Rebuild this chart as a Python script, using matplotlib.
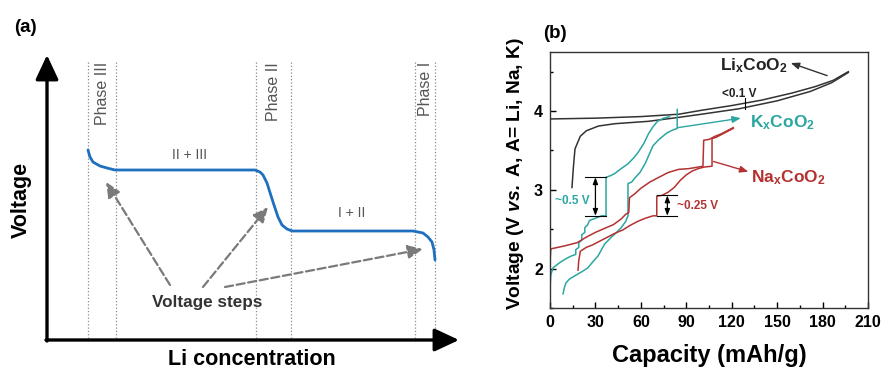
import matplotlib
matplotlib.use("Agg")
import matplotlib.pyplot as plt
from matplotlib.ticker import MultipleLocator

plt.rcParams['font.family'] = ['Liberation Sans', 'DejaVu Sans']
plt.rcParams['mathtext.fontset'] = 'custom'
plt.rcParams['mathtext.rm'] = 'Liberation Sans'
plt.rcParams['mathtext.bf'] = 'Liberation Sans:bold'
plt.rcParams['mathtext.it'] = 'Liberation Sans:italic'
plt.rcParams['mathtext.bfit'] = 'Liberation Sans:italic:bold'

# ---------------- panel (a): schematic (pixel-like units) ----------------
phase_lines_x = [88, 116, 256, 291, 415, 435]
phase_names = ["Phase III", "Phase II", "Phase I"]
phase_label_x = [102, 273, 425]

curve_x = [88, 90, 93, 100, 107, 115, 160, 210, 255, 260, 263, 267, 273, 278,
           282, 287, 292, 340, 380, 413, 423, 428, 432, 434, 435]
curve_y = [150, 157, 162, 166, 168, 170, 170, 170, 170, 172, 175, 183, 202, 217,
           225, 229, 231, 231, 231, 231, 233, 237, 242, 250, 260]

region_labels = ["II + III", "I + II"]
region_xy = [(190, 155), (352, 213)]

step_tails = [(170, 285), (203, 287), (225, 287)]
step_heads = [(106, 182), (268, 207), (423, 249)]

# ---------------- panel (b): data ----------------
li_chg_cap = [0, 30, 60, 85, 100, 120, 140, 160, 175, 187, 197]
li_chg_v = [3.90, 3.91, 3.93, 3.96, 4.01, 4.07, 4.14, 4.23, 4.31, 4.39, 4.50]
li_dis_cap = [197, 186, 172, 150, 125, 100, 85, 65, 43, 32, 24, 20, 16.5, 15.5, 14.5]
li_dis_v = [4.49, 4.36, 4.25, 4.13, 4.03, 3.96, 3.92, 3.87, 3.84, 3.81, 3.75, 3.68, 3.52, 3.30, 3.03]

k1_cap = [0, 0.5, 2, 6, 10, 14, 17, 17, 19, 19, 21, 21, 23, 23, 25, 26, 30, 34, 37,
          37, 40, 43, 47, 51.5, 55, 58, 62, 65, 68, 71, 75, 79]
k1_v = [1.75, 1.92, 2.01, 2.07, 2.12, 2.16, 2.18, 2.24, 2.27, 2.33, 2.36, 2.43, 2.46,
        2.52, 2.56, 2.61, 2.64, 2.67, 2.67, 3.16, 3.18, 3.21, 3.27, 3.33, 3.40, 3.47,
        3.59, 3.71, 3.80, 3.87, 3.91, 3.93]
k2_cap = [8.6, 9.5, 10.6, 13, 16.5, 21, 25, 28, 31.7, 34, 36, 38, 40, 44, 47, 50,
          51.5, 51.5, 54, 56, 59.4, 63, 68, 72, 77, 80, 82.5, 84, 84]
k2_v = [1.68, 1.76, 1.82, 1.87, 1.91, 1.96, 2.01, 2.08, 2.16, 2.24, 2.31, 2.35, 2.39,
        2.46, 2.52, 2.60, 2.67, 3.08, 3.10, 3.15, 3.22, 3.34, 3.56, 3.64, 3.72, 3.75,
        3.77, 3.78, 4.02]

na1_cap = [0, 0.5, 10, 18, 24, 30, 36, 42, 47, 50, 52, 52.5, 56, 60, 66, 72, 78, 85,
           92, 98, 101, 101.5, 105, 109, 113, 117, 121]
na1_v = [2.08, 2.25, 2.29, 2.33, 2.40, 2.46, 2.51, 2.56, 2.63, 2.69, 2.71, 2.90, 2.95,
         3.02, 3.10, 3.16, 3.22, 3.26, 3.27, 3.29, 3.30, 3.63, 3.64, 3.68, 3.71, 3.75, 3.79]
na2_cap = [18.5, 19, 20, 24, 28, 33, 38, 43, 48, 53, 58, 63, 68, 70.5, 70.5, 74, 78,
           82, 86, 90, 94, 98, 102, 107, 107, 110, 114, 118, 121]
na2_v = [1.98, 2.10, 2.22, 2.27, 2.30, 2.35, 2.40, 2.45, 2.49, 2.55, 2.60, 2.64, 2.67,
         2.67, 2.92, 2.93, 2.97, 3.03, 3.12, 3.19, 3.24, 3.27, 3.29, 3.30, 3.65, 3.67,
         3.71, 3.75, 3.78]

black = '#333333'
teal = '#2ba6a0'
red = '#b43232'
blue = '#1f6fbf'
gray = '#7a7a7a'

fig = plt.figure(figsize=(8.81, 3.72), dpi=100)

# ---------------- panel (a) ----------------
axa = fig.add_axes([0, 0, 470 / 881, 1])
axa.set_xlim(0, 470)
axa.set_ylim(372, 0)
axa.axis('off')

for x in phase_lines_x:
    axa.plot([x, x], [62, 338], ls=':', lw=0.9, color='#8a8a8a')
for name, x in zip(phase_names, phase_label_x):
    axa.text(x, 62, name, rotation=90, ha='center', va='top', fontsize=11.5, color='#555555')

axa.plot(curve_x, curve_y, color=blue, lw=2.0, solid_capstyle='round')

for txt, (x, y) in zip(region_labels, region_xy):
    axa.text(x, y, txt, ha='center', va='center', fontsize=10, color='#555555')

for (tx, ty), (hx, hy) in zip(step_tails, step_heads):
    axa.annotate('', xy=(hx, hy), xytext=(tx, ty),
                 arrowprops=dict(arrowstyle='-|>,head_length=0.9,head_width=0.4',
                                 color=gray, lw=1.6, ls='--', shrinkA=0, shrinkB=0))
axa.text(207, 302, 'Voltage steps', ha='center', va='center', fontsize=12.3,
         fontweight='bold', color='#333333')

# axes arrows
axa.annotate('', xy=(47, 55), xytext=(47, 341),
             arrowprops=dict(arrowstyle='-|>,head_length=1.5,head_width=0.7',
                             color='black', lw=2.4, shrinkA=0, shrinkB=0))
axa.annotate('', xy=(459, 340), xytext=(46, 340),
             arrowprops=dict(arrowstyle='-|>,head_length=1.5,head_width=0.7',
                             color='black', lw=2.4, shrinkA=0, shrinkB=0))
axa.text(21, 200, 'Voltage', rotation=90, ha='center', va='center', fontsize=15.5,
         fontweight='bold')
axa.text(252, 365, 'Li concentration', ha='center', va='baseline', fontsize=15.5,
         fontweight='bold')
axa.text(14, 27, '(a)', ha='left', va='center', fontsize=13.5, fontweight='bold')

# ---------------- panel (b) ----------------
ax = fig.add_axes([550 / 881, 64 / 372, 318 / 881, 256 / 372])
ax.plot(li_chg_cap, li_chg_v, color=black, lw=1.1)
ax.plot(li_dis_cap, li_dis_v, color=black, lw=1.1)
ax.plot(k1_cap, k1_v, color=teal, lw=1.1)
ax.plot(k2_cap, k2_v, color=teal, lw=1.1)
ax.plot(na1_cap, na1_v, color=red, lw=1.1)
ax.plot(na2_cap, na2_v, color=red, lw=1.1)

ax.set_xlim(0, 210)
ax.set_ylim(1.5, 4.75)
ax.xaxis.set_major_locator(MultipleLocator(30))
ax.xaxis.set_minor_locator(MultipleLocator(15))
ax.yaxis.set_major_locator(MultipleLocator(1))
ax.yaxis.set_minor_locator(MultipleLocator(0.5))
ax.tick_params(which='both', direction='in', top=False, right=False,
               labelsize=11.5, pad=5)
ax.tick_params(which='major', length=4, width=1)
ax.tick_params(which='minor', length=2.5, width=1)
for lab in ax.get_xticklabels() + ax.get_yticklabels():
    lab.set_fontweight('bold')
for s in ax.spines.values():
    s.set_linewidth(1.0)
    s.set_color('#333333')

ax.set_xlabel('Capacity (mAh/g)', fontsize=17, fontweight='bold', labelpad=10)
ax.set_ylabel(r'Voltage (V $\mathbfit{vs.}$ A, A= Li, Na, K)', fontsize=13.8,
              fontweight='bold')
ax.yaxis.set_label_coords(-0.075, 0.525)

# labels and arrows
ax.text(112, 4.58, r'Li$_{\mathbf{x}}$CoO$_{\mathbf{2}}$', fontsize=12.5,
        fontweight='bold', color='#222222', va='center')
ax.annotate('', xy=(159, 4.61), xytext=(183, 4.45),
            arrowprops=dict(arrowstyle='-|>,head_length=0.5,head_width=0.2',
                            color=black, lw=1.0, shrinkA=0, shrinkB=0))
ax.text(132, 3.85, r'K$_{\mathbf{x}}$CoO$_{\mathbf{2}}$', fontsize=12.5,
        fontweight='bold', color=teal, va='center')
ax.annotate('', xy=(126, 3.91), xytext=(84.5, 3.79),
            arrowprops=dict(arrowstyle='-|>,head_length=0.5,head_width=0.2',
                            color=teal, lw=1.0, shrinkA=0, shrinkB=0))
ax.text(133, 3.15, r'Na$_{\mathbf{x}}$CoO$_{\mathbf{2}}$', fontsize=12.5,
        fontweight='bold', color=red, va='center')
ax.annotate('', xy=(131, 3.23), xytext=(108, 3.36),
            arrowprops=dict(arrowstyle='-|>,head_length=0.5,head_width=0.2',
                            color=red, lw=1.0, shrinkA=0, shrinkB=0))

# voltage-gap markers
ax.annotate('', xy=(30, 3.16), xytext=(30, 2.67),
            arrowprops=dict(arrowstyle='<|-|>,head_length=0.4,head_width=0.15',
                            color='black', lw=0.9, shrinkA=0, shrinkB=0))
ax.plot([23, 37], [3.16, 3.16], color='black', lw=0.8)
ax.plot([23, 37], [2.67, 2.67], color='black', lw=0.8)
ax.text(26, 2.86, '~0.5 V', fontsize=8.5, fontweight='bold', color=teal,
        ha='right', va='center')

ax.annotate('', xy=(77.5, 2.93), xytext=(77.5, 2.67),
            arrowprops=dict(arrowstyle='<|-|>,head_length=0.4,head_width=0.15',
                            color='black', lw=0.9, shrinkA=0, shrinkB=0))
ax.plot([70.5, 84], [2.93, 2.93], color='black', lw=0.8)
ax.plot([70.5, 84], [2.67, 2.67], color='black', lw=0.8)
ax.text(84, 2.8, '~0.25 V', fontsize=8.5, fontweight='bold', color=red,
        ha='left', va='center')

ax.plot([129, 129], [4.03, 4.17], color='black', lw=0.8)
ax.text(125, 4.22, '<0.1 V', fontsize=8.5, fontweight='bold', color='#222222',
        ha='center', va='center')

fig.text(543 / 881, 1 - 33 / 372, '(b)', ha='left', va='center', fontsize=13.5,
         fontweight='bold')

fig.savefig('out.png', dpi=100)
